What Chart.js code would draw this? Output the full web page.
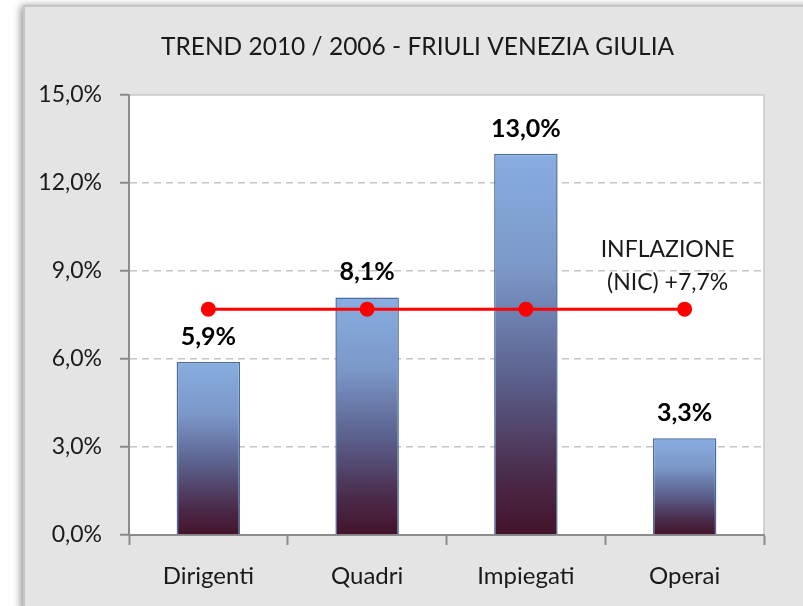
<!DOCTYPE html>
<html>
<head>
<meta charset="utf-8">
<script src="https://cdn.jsdelivr.net/npm/chart.js@4/dist/chart.umd.min.js"></script>
<style>
  html, body { margin: 0; padding: 0; background: #fff; }
  #wrap { width: 803px; height: 606px; position: relative; }
</style>
</head>
<body>
<div id="wrap"><canvas id="trend_chart" width="803" height="606"></canvas></div>
<script>
const categories = ['Dirigenti', 'Quadri', 'Impiegati', 'Operai'];
const trendValues = [5.9, 8.1, 13.0, 3.3];
const inflationValues = [7.7, 7.7, 7.7, 7.7];
const inflationLabel = ['INFLAZIONE', '(NIC) +7,7%'];
const yTicks = [0, 3, 6, 9, 12, 15];
const chartTitle = 'TREND 2010 / 2006 - FRIULI VENEZIA GIULIA';

const FONT = 'Lato, "Open Sans", sans-serif';

function fmt(v){
    return v.toFixed(1).replace('.', ',') + '%';
}

// grey frame, white plot area, title
const framePlugin = {
    id: 'frame',
    beforeDraw(chart){
        const c = chart.ctx;
        const a = chart.chartArea;
        c.save();
        c.fillStyle = '#fff';
        c.fillRect(0, 0, chart.width, chart.height);
        c.shadowColor = 'rgba(0,0,0,0.45)';
        c.shadowBlur = 8;
        c.shadowOffsetX = -3;
        c.fillStyle = '#e4e4e4';
        c.fillRect(24, 6, chart.width, chart.height);
        c.shadowColor = 'transparent';
        c.strokeStyle = '#c6c6c6';
        c.lineWidth = 2;
        c.strokeRect(24, 6, chart.width, chart.height);
        c.fillStyle = '#fff';
        c.fillRect(a.left, a.top, a.right - a.left, a.bottom - a.top);
        c.strokeStyle = '#c8c8c8';
        c.lineWidth = 1.5;
        c.beginPath();
        c.moveTo(a.left, a.top);
        c.lineTo(a.right, a.top);
        c.lineTo(a.right, a.bottom);
        c.stroke();
        // title, a bit left of the plot centre like the original
        c.fillStyle = '#1a1a1a';
        c.font = '24.5px ' + FONT;
        c.textAlign = 'center';
        c.textBaseline = 'middle';
        c.fillText(chartTitle, (a.left + a.right) / 2 - 29, 47);
        c.restore();
    }
};

// bar value labels + inflation note
const labelsPlugin = {
    id: 'valueLabels',
    afterDatasetsDraw(chart){
        const c = chart.ctx;
        const x = chart.scales.x;
        const y = chart.scales.y;
        c.save();
        c.fillStyle = '#000';
        c.textAlign = 'center';
        c.textBaseline = 'alphabetic';
        c.font = 'bold 25px ' + FONT;
        trendValues.forEach(function(v, i){
            c.fillText(fmt(v), x.getPixelForValue(i), y.getPixelForValue(v) - 17);
        });
        c.font = '23px ' + FONT;
        c.fillStyle = '#1a1a1a';
        const lx = x.getPixelForValue(3) - 17;
        const ly = y.getPixelForValue(inflationValues[3]);
        c.fillText(inflationLabel[0], lx, ly - 52);
        c.fillText(inflationLabel[1], lx, ly - 19);
        c.restore();
    }
};

function barGradient(context){
    const chart = context.chart;
    const y = chart.scales.y;
    if(!y || !chart.chartArea) return '#86abdf';
    const top = y.getPixelForValue(trendValues[context.dataIndex]);
    const base = y.getPixelForValue(0);
    const g = chart.ctx.createLinearGradient(0, top, 0, base);
    g.addColorStop(0, '#88ade0');
    g.addColorStop(0.3, '#7b98c9');
    g.addColorStop(0.6, '#5a5e8a');
    g.addColorStop(0.85, '#4a2a49');
    g.addColorStop(1, '#44132a');
    return g;
}

const ctx = document.getElementById('trend_chart').getContext('2d');
const chart = new Chart(ctx, {
    type: 'bar',
    data: {
        labels: categories,
        datasets: [{
            type: 'line',
            label: 'Inflazione',
            data: inflationValues,
            borderColor: '#ff0000',
            backgroundColor: '#ff0000',
            borderWidth: 3,
            pointRadius: 6,
            pointHoverRadius: 6,
            order: 0
        }, {
            label: 'Trend',
            data: trendValues,
            backgroundColor: barGradient,
            borderColor: '#4a6c9c',
            borderWidth: 1.5,
            categoryPercentage: 0.8,
            barPercentage: 0.5,
            order: 1
        }]
    },
    options: {
        responsive: false,
        animation: false,
        layout: {
            padding: { left: 24, right: 39, top: 95, bottom: 0 }
        },
        plugins: {
            legend: { display: false },
            tooltip: { enabled: false },
            title: { display: false }
        },
        scales: {
            x: {
                afterFit: function(scale){ scale.height = 71; },
                grid: {
                    offset: true,
                    drawOnChartArea: false,
                    tickLength: 10,
                    tickColor: '#8c8c8c',
                    tickWidth: 2
                },
                border: { color: '#8c8c8c', width: 2 },
                ticks: {
                    color: '#1a1a1a',
                    padding: 17,
                    font: { family: FONT, size: 24 }
                }
            },
            y: {
                min: 0,
                max: 15,
                afterFit: function(scale){ scale.width = 105; },
                afterBuildTicks: function(scale){
                    scale.ticks = yTicks.map(function(v){ return { value: v }; });
                },
                grid: {
                    color: function(c){
                        return (c.tick && (c.tick.value === 0 || c.tick.value === 15)) ? 'rgba(0,0,0,0)' : '#c4c4c4';
                    },
                    lineWidth: 1.5,
                    tickLength: 9,
                    tickColor: '#8c8c8c',
                    tickWidth: 2,
                    tickBorderDash: [0, 0]
                },
                border: { color: '#8c8c8c', width: 2, dash: [7, 5] },
                ticks: {
                    color: '#1a1a1a',
                    padding: 18,
                    font: { family: FONT, size: 23 },
                    callback: function(v){ return fmt(v); }
                }
            }
        }
    },
    plugins: [framePlugin, labelsPlugin]
});
</script>
</body>
</html>
